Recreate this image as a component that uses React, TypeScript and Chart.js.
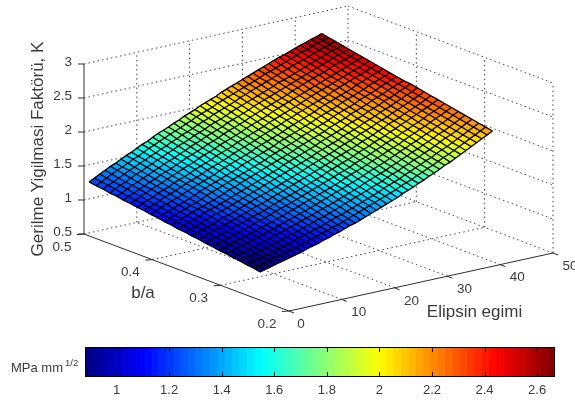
import React, { useEffect, useRef } from "react";
import { Chart, registerables } from "chart.js";
Chart.register(...registerables);

const FONT = '"Liberation Sans", Arial, sans-serif';
const TEXT = "#3c3c3c";

const zTicks = [0.5, 1, 1.5, 2, 2.5, 3];
const baTicks = [0.5, 0.4, 0.3, 0.2];
const egimTicks = [0, 10, 20, 30, 40, 50];
const colorbarTicks = [1, 1.2, 1.4, 1.6, 1.8, 2, 2.2, 2.4, 2.6];
const colorbarMin = 0.88;
const colorbarMax = 2.668;
const colorMin = 0.87;
const colorMax = 2.68;

const baValues = [0.25,0.26,0.27,0.28,0.29,0.3,0.31,0.32,0.33,0.34,0.35,0.36,0.37,0.38,0.39,0.4,0.41,0.42,0.43,0.44,0.45,0.46,0.47,0.48,0.49,0.5];
const egimValues = [1,2,3,4,5,6,7,8,9,10,11,12,13,14,15,16,17,18,19,20,21,22,23,24,25,26,27,28,29,30,31,32,33,34,35,36,37,38,39,40,41,42,43,44,45];
// K, one row per egim value, one column per b/a value
const kTable = [
[0.87,0.89,0.90,0.92,0.93,0.95,0.96,0.98,0.99,1.01,1.02,1.04,1.05,1.07,1.08,1.10,1.11,1.13,1.14,1.16,1.17,1.19,1.20,1.22,1.23,1.25],
[0.89,0.90,0.92,0.94,0.95,0.97,0.98,1.00,1.02,1.03,1.05,1.06,1.08,1.10,1.11,1.13,1.14,1.16,1.18,1.19,1.21,1.22,1.24,1.26,1.27,1.29],
[0.91,0.92,0.94,0.96,0.97,0.99,1.01,1.03,1.04,1.06,1.08,1.09,1.11,1.13,1.14,1.16,1.18,1.19,1.21,1.23,1.24,1.26,1.28,1.29,1.31,1.33],
[0.93,0.95,0.96,0.98,1.00,1.02,1.03,1.05,1.07,1.09,1.10,1.12,1.14,1.16,1.17,1.19,1.21,1.23,1.24,1.26,1.28,1.30,1.31,1.33,1.35,1.37],
[0.95,0.97,0.98,1.00,1.02,1.04,1.06,1.08,1.09,1.11,1.13,1.15,1.17,1.19,1.20,1.22,1.24,1.26,1.28,1.30,1.31,1.33,1.35,1.37,1.39,1.41],
[0.97,0.99,1.01,1.03,1.04,1.06,1.08,1.10,1.12,1.14,1.16,1.18,1.20,1.22,1.23,1.25,1.27,1.29,1.31,1.33,1.35,1.37,1.39,1.41,1.42,1.44],
[0.99,1.01,1.03,1.05,1.07,1.09,1.11,1.13,1.15,1.17,1.19,1.21,1.23,1.24,1.26,1.28,1.30,1.32,1.34,1.36,1.38,1.40,1.42,1.44,1.46,1.48],
[1.01,1.03,1.05,1.07,1.09,1.11,1.13,1.15,1.17,1.19,1.21,1.23,1.25,1.27,1.29,1.31,1.34,1.36,1.38,1.40,1.42,1.44,1.46,1.48,1.50,1.52],
[1.03,1.05,1.07,1.10,1.12,1.14,1.16,1.18,1.20,1.22,1.24,1.26,1.28,1.30,1.33,1.35,1.37,1.39,1.41,1.43,1.45,1.47,1.49,1.51,1.53,1.55],
[1.06,1.08,1.10,1.12,1.14,1.16,1.18,1.21,1.23,1.25,1.27,1.29,1.31,1.33,1.36,1.38,1.40,1.42,1.44,1.46,1.48,1.51,1.53,1.55,1.57,1.59],
[1.08,1.10,1.12,1.14,1.17,1.19,1.21,1.23,1.25,1.28,1.30,1.32,1.34,1.36,1.39,1.41,1.43,1.45,1.47,1.50,1.52,1.54,1.56,1.58,1.61,1.63],
[1.10,1.13,1.15,1.17,1.19,1.22,1.24,1.26,1.28,1.31,1.33,1.35,1.37,1.40,1.42,1.44,1.46,1.48,1.51,1.53,1.55,1.57,1.60,1.62,1.64,1.66],
[1.13,1.15,1.17,1.20,1.22,1.24,1.26,1.29,1.31,1.33,1.36,1.38,1.40,1.42,1.45,1.47,1.49,1.52,1.54,1.56,1.59,1.61,1.63,1.65,1.68,1.70],
[1.15,1.18,1.20,1.22,1.25,1.27,1.29,1.32,1.34,1.36,1.39,1.41,1.43,1.46,1.48,1.50,1.53,1.55,1.57,1.60,1.62,1.64,1.67,1.69,1.71,1.74],
[1.18,1.20,1.22,1.25,1.27,1.30,1.32,1.34,1.37,1.39,1.41,1.44,1.46,1.49,1.51,1.53,1.56,1.58,1.60,1.63,1.65,1.68,1.70,1.72,1.75,1.77],
[1.20,1.23,1.25,1.28,1.30,1.32,1.35,1.37,1.40,1.42,1.44,1.47,1.49,1.52,1.54,1.56,1.59,1.61,1.64,1.66,1.68,1.71,1.73,1.76,1.78,1.80],
[1.23,1.25,1.28,1.30,1.33,1.35,1.38,1.40,1.42,1.45,1.47,1.50,1.52,1.55,1.57,1.60,1.62,1.64,1.67,1.69,1.72,1.74,1.77,1.79,1.81,1.84],
[1.26,1.28,1.31,1.33,1.36,1.38,1.41,1.43,1.45,1.48,1.50,1.53,1.55,1.58,1.60,1.63,1.65,1.68,1.70,1.73,1.75,1.78,1.80,1.82,1.85,1.87],
[1.28,1.31,1.33,1.36,1.38,1.41,1.43,1.46,1.48,1.51,1.53,1.56,1.58,1.61,1.63,1.66,1.68,1.71,1.73,1.76,1.78,1.81,1.83,1.86,1.88,1.91],
[1.31,1.34,1.36,1.39,1.41,1.44,1.46,1.49,1.51,1.54,1.56,1.59,1.61,1.64,1.66,1.69,1.71,1.74,1.77,1.79,1.82,1.84,1.87,1.89,1.92,1.94],
[1.34,1.37,1.39,1.42,1.44,1.47,1.49,1.52,1.54,1.57,1.59,1.62,1.65,1.67,1.70,1.72,1.75,1.77,1.80,1.82,1.85,1.87,1.90,1.92,1.95,1.97],
[1.37,1.40,1.42,1.45,1.47,1.50,1.52,1.55,1.57,1.60,1.62,1.65,1.68,1.70,1.73,1.75,1.78,1.80,1.83,1.85,1.88,1.91,1.93,1.96,1.98,2.01],
[1.40,1.43,1.45,1.48,1.50,1.53,1.55,1.58,1.60,1.63,1.66,1.68,1.71,1.73,1.76,1.78,1.81,1.84,1.86,1.89,1.91,1.94,1.96,1.99,2.01,2.04],
[1.43,1.46,1.48,1.51,1.53,1.56,1.58,1.61,1.64,1.66,1.69,1.71,1.74,1.76,1.79,1.82,1.84,1.87,1.89,1.92,1.94,1.97,2.00,2.02,2.05,2.07],
[1.46,1.49,1.51,1.54,1.56,1.59,1.62,1.64,1.67,1.69,1.72,1.74,1.77,1.80,1.82,1.85,1.87,1.90,1.92,1.95,1.98,2.00,2.03,2.05,2.08,2.10],
[1.49,1.52,1.54,1.57,1.60,1.62,1.65,1.67,1.70,1.72,1.75,1.78,1.80,1.83,1.85,1.88,1.90,1.93,1.96,1.98,2.01,2.03,2.06,2.08,2.11,2.14],
[1.52,1.55,1.58,1.60,1.63,1.65,1.68,1.70,1.73,1.76,1.78,1.81,1.83,1.86,1.89,1.91,1.94,1.96,1.99,2.01,2.04,2.07,2.09,2.12,2.14,2.17],
[1.56,1.58,1.61,1.63,1.66,1.69,1.71,1.74,1.76,1.79,1.81,1.84,1.87,1.89,1.92,1.94,1.97,2.00,2.02,2.05,2.07,2.10,2.12,2.15,2.17,2.20],
[1.59,1.62,1.64,1.67,1.69,1.72,1.74,1.77,1.79,1.82,1.85,1.87,1.90,1.92,1.95,1.97,2.00,2.02,2.05,2.08,2.10,2.13,2.15,2.18,2.20,2.23],
[1.62,1.65,1.67,1.70,1.72,1.75,1.78,1.80,1.83,1.85,1.88,1.90,1.93,1.95,1.98,2.00,2.03,2.06,2.08,2.11,2.13,2.16,2.18,2.21,2.23,2.26],
[1.66,1.68,1.71,1.73,1.76,1.78,1.81,1.83,1.86,1.88,1.91,1.94,1.96,1.99,2.01,2.04,2.06,2.09,2.11,2.14,2.16,2.19,2.21,2.24,2.26,2.29],
[1.69,1.72,1.74,1.77,1.79,1.82,1.84,1.87,1.89,1.92,1.94,1.97,1.99,2.02,2.04,2.07,2.09,2.12,2.14,2.17,2.19,2.22,2.24,2.27,2.29,2.32],
[1.73,1.75,1.78,1.80,1.83,1.85,1.88,1.90,1.93,1.95,1.98,2.00,2.03,2.05,2.08,2.10,2.13,2.15,2.18,2.20,2.23,2.25,2.28,2.30,2.33,2.35],
[1.76,1.79,1.81,1.84,1.86,1.89,1.91,1.94,1.96,1.98,2.01,2.03,2.06,2.08,2.11,2.13,2.16,2.18,2.21,2.23,2.26,2.28,2.30,2.33,2.35,2.38],
[1.80,1.82,1.85,1.87,1.90,1.92,1.94,1.97,1.99,2.02,2.04,2.07,2.09,2.12,2.14,2.16,2.19,2.21,2.24,2.26,2.29,2.31,2.33,2.36,2.38,2.41],
[1.84,1.86,1.88,1.91,1.93,1.96,1.98,2.00,2.03,2.05,2.08,2.10,2.12,2.15,2.17,2.20,2.22,2.24,2.27,2.29,2.32,2.34,2.36,2.39,2.41,2.44],
[1.87,1.90,1.92,1.94,1.97,1.99,2.02,2.04,2.06,2.09,2.11,2.13,2.16,2.18,2.20,2.23,2.25,2.28,2.30,2.32,2.35,2.37,2.39,2.42,2.44,2.47],
[1.91,1.93,1.96,1.98,2.00,2.03,2.05,2.07,2.10,2.12,2.14,2.17,2.19,2.21,2.24,2.26,2.28,2.31,2.33,2.35,2.38,2.40,2.42,2.45,2.47,2.49],
[1.95,1.97,1.99,2.02,2.04,2.06,2.09,2.11,2.13,2.15,2.18,2.20,2.22,2.25,2.27,2.29,2.31,2.34,2.36,2.38,2.40,2.43,2.45,2.47,2.50,2.52],
[1.99,2.01,2.03,2.06,2.08,2.10,2.12,2.14,2.17,2.19,2.21,2.23,2.26,2.28,2.30,2.32,2.35,2.37,2.39,2.41,2.44,2.46,2.48,2.50,2.53,2.55],
[2.03,2.05,2.07,2.09,2.11,2.14,2.16,2.18,2.20,2.22,2.25,2.27,2.29,2.31,2.33,2.36,2.38,2.40,2.42,2.44,2.47,2.49,2.51,2.53,2.55,2.58],
[2.07,2.09,2.11,2.13,2.15,2.17,2.20,2.22,2.24,2.26,2.28,2.30,2.32,2.35,2.37,2.39,2.41,2.43,2.45,2.47,2.50,2.52,2.54,2.56,2.58,2.60],
[2.11,2.13,2.15,2.17,2.19,2.21,2.23,2.25,2.27,2.29,2.32,2.34,2.36,2.38,2.40,2.42,2.44,2.46,2.48,2.50,2.52,2.55,2.57,2.59,2.61,2.63],
[2.15,2.17,2.19,2.21,2.23,2.25,2.27,2.29,2.31,2.33,2.35,2.37,2.39,2.41,2.43,2.45,2.47,2.49,2.51,2.53,2.55,2.57,2.59,2.61,2.63,2.65],
[2.19,2.21,2.23,2.25,2.27,2.29,2.31,2.33,2.35,2.37,2.39,2.41,2.43,2.44,2.46,2.48,2.50,2.52,2.54,2.56,2.58,2.60,2.62,2.64,2.66,2.68],
];

// View of the 3-D box on the page
function project(ba: number, egim: number, k: number) {
  const u = (ba - 0.2) / 0.3;
  const v = egim / 50;
  return { x: 289 - 205 * u + 264 * v, y: 311 - 77 * u - 58 * v - (k - 0.5) * 68 };
}

function jet(value: number) {
  const level = Math.max(0, Math.min(63, Math.floor(((value - colorMin) / (colorMax - colorMin)) * 64)));
  return jetLevel(level);
}
function jetLevel(level: number) {
  const x = (level + 0.5) / 64;
  const c = (d: number) => Math.round(255 * Math.max(0, Math.min(1, 1.5 - Math.abs(4 * x - d))));
  return `rgb(${c(3)},${c(2)},${c(1)})`;
}

function lineSet(points: { x: number; y: number }[], color: string, width: number, dash: number[], order: number, label = "") {
  return {
    type: "scatter",
    label,
    data: points,
    showLine: true,
    borderColor: color,
    borderWidth: width,
    borderDash: dash,
    pointRadius: 0,
    tension: 0,
    order,
  };
}

function buildDatasets() {
  const sets: any[] = [];
  const dots = [1.5, 3.1];
  const grid = (a: [number, number, number], b: [number, number, number]) =>
    sets.push(lineSet([project(...a), project(...b)], "#444444", 1, dots, 5));
  // floor grid
  for (const ba of [0.3, 0.4]) grid([ba, 0, 0.5], [ba, 50, 0.5]);
  for (const e of [10, 20, 30, 40]) grid([0.2, e, 0.5], [0.5, e, 0.5]);
  grid([0.5, 0, 0.5], [0.5, 50, 0.5]);
  grid([0.2, 50, 0.5], [0.5, 50, 0.5]);
  // back walls
  for (const z of zTicks.slice(1)) {
    grid([0.5, 0, z], [0.5, 50, z]);
    grid([0.5, 50, z], [0.2, 50, z]);
  }
  for (const e of [10, 20, 30, 40, 50]) grid([0.5, e, 0.5], [0.5, e, 3]);
  for (const ba of [0.2, 0.3, 0.4]) grid([ba, 50, 0.5], [ba, 50, 3]);
  // axes
  const axis = "#2e2e2e";
  sets.push(lineSet([project(0.5, 0, 0.5), project(0.5, 0, 3)], axis, 1, [], 4));
  sets.push(lineSet([project(0.5, 0, 0.5), project(0.2, 0, 0.5)], axis, 1, [], 4));
  sets.push(lineSet([project(0.2, 0, 0.5), project(0.2, 50, 0.5)], axis, 1, [], 4));
  for (const z of zTicks) {
    const p = project(0.5, 0, z);
    sets.push(lineSet([p, { x: p.x - 6, y: p.y }], axis, 1, [], 4));
  }
  for (const ba of baTicks) {
    const p = project(ba, 0, 0.5);
    sets.push(lineSet([p, { x: p.x - 7, y: p.y + 0.5 }], axis, 1, [], 4));
  }
  for (const e of egimTicks) {
    const p = project(0.2, e, 0.5);
    sets.push(lineSet([p, { x: p.x + 5, y: p.y + 2 }], axis, 1, [], 4));
  }
  // surface mesh
  egimValues.forEach((e, i) => {
    sets.push(lineSet(baValues.map((ba, j) => project(ba, e, kTable[i][j])), "#000000", 1.3, [], 2, "mesh"));
  });
  baValues.forEach((ba, j) => {
    sets.push(lineSet(egimValues.map((e, i) => project(ba, e, kTable[i][j])), "#000000", 1.3, [], 2, "mesh"));
  });
  return sets;
}

const surfacePlugin = {
  id: "surfaceFill",
  beforeDraw(chart: any) {
    chart.$filled = false;
  },
  beforeDatasetDraw(chart: any, args: any) {
    // The cell colours go down just before the first mesh line, above walls and axes.
    const ds = chart.data.datasets[args.index];
    if (ds.label !== "mesh" || chart.$filled) return;
    chart.$filled = true;
    const { ctx, scales } = chart;
    const pt = (i: number, j: number) => {
      const p = project(baValues[j], egimValues[i], kTable[i][j]);
      return [scales.x.getPixelForValue(p.x), scales.y.getPixelForValue(p.y)];
    };
    ctx.save();
    ctx.lineWidth = 0.6;
    for (let i = 0; i < egimValues.length - 1; i++) {
      for (let j = 0; j < baValues.length - 1; j++) {
        const corners = [pt(i, j), pt(i + 1, j), pt(i + 1, j + 1), pt(i, j + 1)];
        ctx.beginPath();
        corners.forEach((c, n) => (n ? ctx.lineTo(c[0], c[1]) : ctx.moveTo(c[0], c[1])));
        ctx.closePath();
        const col = jet(kTable[i][j]);
        ctx.fillStyle = col;
        ctx.strokeStyle = col;
        ctx.fill();
        ctx.stroke();
      }
    }
    ctx.restore();
  },
  afterDraw(chart: any) {
    const { ctx, scales } = chart;
    const text = (s: string, p: { x: number; y: number }, size: number, dx = 0, dy = 0, align: CanvasTextAlign = "center") => {
      ctx.font = `${size}px ${FONT}`;
      ctx.textAlign = align;
      ctx.textBaseline = "middle";
      ctx.fillText(s, scales.x.getPixelForValue(p.x) + dx, scales.y.getPixelForValue(p.y) + dy);
    };
    ctx.save();
    ctx.fillStyle = TEXT;
    for (const z of zTicks) text(String(z), project(0.5, 0, z), 13.5, -12, -2, "right");
    for (const ba of baTicks) text(String(ba), project(ba, 0, 0.5), 13.5, -22, 13);
    for (const e of egimTicks) text(String(e), project(0.2, e, 0.5), 13.5, e === 0 ? 12 : 17, 13);
    text("b/a", { x: 143, y: 293 }, 17);
    text("Elipsin egimi", { x: 474.5, y: 312 }, 17);
    ctx.translate(38, 149);
    ctx.rotate(-Math.PI / 2);
    ctx.font = `17px ${FONT}`;
    ctx.textAlign = "center";
    ctx.textBaseline = "middle";
    ctx.fillText("Gerilme Yigilmasi Faktörü, K", 0, 0);
    ctx.restore();
    ctx.save();
    ctx.fillStyle = TEXT;
    text("MPa mm", { x: 11, y: 368 }, 13, 0, 0, "left");
    text("1/2", { x: 65, y: 363 }, 9.5, 0, 0, "left");
    ctx.restore();
  },
};

const colorbarFrame = {
  id: "colorbarFrame",
  afterDraw(chart: any) {
    const { ctx, chartArea: a, scales } = chart;
    ctx.save();
    ctx.strokeStyle = "#000";
    ctx.lineWidth = 1;
    ctx.strokeRect(a.left + 0.5, a.top + 0.5, a.right - a.left - 1, a.bottom - a.top - 1);
    for (const v of colorbarTicks) {
      const x = Math.round(scales.x.getPixelForValue(v)) + 0.5;
      ctx.beginPath();
      ctx.moveTo(x, a.top);
      ctx.lineTo(x, a.top + 5);
      ctx.moveTo(x, a.bottom);
      ctx.lineTo(x, a.bottom - 5);
      ctx.stroke();
    }
    ctx.restore();
  },
};

export default function App() {
  const surfaceRef = useRef<HTMLCanvasElement>(null);
  const barRef = useRef<HTMLCanvasElement>(null);
  useEffect(() => {
    const surface = new Chart(surfaceRef.current as any, {
      type: "scatter",
      data: { datasets: buildDatasets() },
      options: {
        animation: false,
        responsive: false,
        events: [],
        layout: { padding: 0 },
        plugins: { legend: { display: false }, tooltip: { enabled: false } },
        scales: {
          x: { type: "linear", min: 0, max: 575, display: false },
          y: { type: "linear", min: 0, max: 403, reverse: true, display: false },
        },
      },
      plugins: [surfacePlugin],
    } as any);

    const bands = Array.from({ length: 64 }, (_, level) => level);
    const step = (colorbarMax - colorbarMin) / 64;
    const bar = new Chart(barRef.current as any, {
      type: "bar",
      data: {
        labels: ["K"],
        datasets: bands.map((level) => ({
          data: [level === 0 ? colorbarMin + step : step],
          backgroundColor: jetLevel(level),
          borderWidth: 0,
          barPercentage: 1,
          categoryPercentage: 1,
        })),
      },
      options: {
        indexAxis: "y",
        animation: false,
        responsive: false,
        events: [],
        layout: { padding: { left: 85, right: 20, top: 347, bottom: 0 } },
        plugins: { legend: { display: false }, tooltip: { enabled: false } },
        scales: {
          x: {
            type: "linear",
            stacked: true,
            min: colorbarMin,
            max: colorbarMax,
            afterBuildTicks: (s: any) => {
              s.ticks = colorbarTicks.map((value) => ({ value }));
            },
            afterFit: (s: any) => {
              s.height = 26;
            },
            grid: { display: false, drawTicks: false },
            border: { display: false },
            ticks: {
              autoSkip: false,
              maxRotation: 0,
              padding: 6,
              color: TEXT,
              font: { family: FONT, size: 13 },
              callback: (v: any) => String(v),
            },
          },
          y: { stacked: true, display: false },
        },
      },
      plugins: [colorbarFrame],
    } as any);
    return () => {
      surface.destroy();
      bar.destroy();
    };
  }, []);
  const style: React.CSSProperties = { position: "absolute", left: 0, top: 0 };
  return (
    <div style={{ position: "fixed", left: 0, top: 0, width: 575, height: 403, background: "#fff", overflow: "hidden" }}>
      <canvas ref={surfaceRef} width={575} height={403} style={style} />
      <canvas ref={barRef} width={575} height={403} style={style} />
    </div>
  );
}
